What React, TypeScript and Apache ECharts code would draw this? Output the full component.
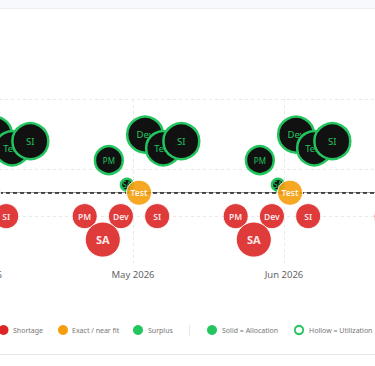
import { useEffect, useRef } from "react";
import * as echarts from "echarts";

// Month ticks on the x axis (index = tick value)
const monthLabels = ["Mar 2026", "Apr 2026", "May 2026", "Jun 2026", "Jul 2026", "Aug 2026"];
// Months that carry bubbles (tick index)
const bubbleMonths = [1, 2, 3, 4];
const roles = ["PM", "SA", "Dev", "Test", "SI"];

// Allocation gap (FTE) per month x role  (negative = shortage, 0 = fit)
const allocationGap = [
  [-1, -2, -1, 0, -1],
  [-1, -2, -1, 0, -1],
  [-1, -2, -1, 0, -1],
  [-1, -2, -1, 0, -1],
];
// Allocation magnitude per month x role
const allocationFte = [
  [1.9, 3, 1.9, 1.9, 1.9],
  [1.9, 3, 1.9, 1.9, 1.9],
  [1.9, 3, 1.9, 1.9, 1.9],
  [1.9, 3, 1.9, 1.9, 1.9],
];
// Utilization gap per month x role (positive = surplus)
const utilizationGap = [
  [1.39, 0.34, 2.48, 1.9, 2.2],
  [1.39, 0.34, 2.48, 1.9, 2.2],
  [1.39, 0.34, 2.48, 1.9, 2.2],
  [1.39, 0.34, 2.48, 1.9, 2.2],
];
const utilizationFte = [
  [2.2, 0.45, 3.1, 2.9, 3.1],
  [2.2, 0.45, 3.1, 2.9, 3.1],
  [2.2, 0.45, 3.1, 2.9, 3.1],
  [2.2, 0.45, 3.1, 2.9, 3.1],
];
// Offset of each role within its month (fraction of a month)
const allocationOffset = [-0.32, -0.2, -0.08, 0.04, 0.16];
const utilizationOffset = [-0.16, -0.04, 0.08, 0.2, 0.32];

const RED = "#dc2626";
const ORANGE = "#f59e0b";
const GREEN = "#22c55e";
const FONT = "'Noto Sans', 'Open Sans', sans-serif";

// the chart canvas is wider than the visible window and shifted left
const SHIFT = 200;
const CANVAS_W = 900;

const sizeOf = (fte: number) => 8 + 9 * fte;

export default function App() {
  const ref = useRef<HTMLDivElement>(null);

  useEffect(() => {
    if (!ref.current) return;
    const chart = echarts.init(ref.current, null, { renderer: "svg" });

    const series: any[] = [];
    let z = 10;

    // utilization (hollow style) bubbles
    const utilOrder = [0, 2, 3, 4, 1];
    utilOrder.forEach((r) => {
      series.push({
        type: "scatter",
        z: z++,
        clip: false,
        data: bubbleMonths.map((m, i) => [m + utilizationOffset[r], utilizationGap[i][r], utilizationFte[i][r]]),
        symbol: "circle",
        symbolSize: (v: number[]) => sizeOf(v[2]),
        itemStyle: { color: "#111111", borderColor: GREEN, borderWidth: 2.5, opacity: 1 },
        label: {
          show: true,
          position: "inside",
          formatter: roles[r],
          color: GREEN,
          fontFamily: FONT,
          fontSize: utilizationFte[0][r] >= 2.8 ? 9.5 : 8,
        },
        emphasis: { disabled: true },
      });
    });

    // allocation (solid) bubbles
    const allocOrder = [3, 0, 2, 4, 1];
    allocOrder.forEach((r) => {
      series.push({
        type: "scatter",
        z: z++,
        clip: false,
        data: bubbleMonths.map((m, i) => {
          const g = allocationGap[i][r];
          return {
            value: [m + allocationOffset[r], g, allocationFte[i][r]],
            itemStyle: { color: g < 0 ? RED : g === 0 ? ORANGE : GREEN },
          };
        }),
        symbol: "circle",
        symbolSize: (v: number[]) => sizeOf(v[2]),
        itemStyle: { opacity: 0.9, borderColor: "#ffffff", borderWidth: 1 },
        label: {
          show: true,
          position: "inside",
          formatter: roles[r],
          color: "#ffffff",
          fontFamily: FONT,
          fontWeight: allocationFte[0][r] >= 2.8 ? "bold" : 600,
          fontSize: allocationFte[0][r] >= 2.8 ? 11 : 8.5,
        },
        emphasis: { disabled: true },
      });
    });

    // reference lines
    series[0].markLine = {
      silent: true,
      symbol: "none",
      label: { show: false },
      animation: false,
      data: [
        { yAxis: 4, lineStyle: { color: "#e8e8e8", width: 1, type: [3, 3] } },
        { yAxis: 1, lineStyle: { color: "#e8e8e8", width: 1, type: [3, 3] } },
        { yAxis: -1, lineStyle: { color: "#e8e8e8", width: 1, type: [3, 3] } },
        { yAxis: 0, lineStyle: { color: "#222222", width: 1.5, type: [4, 3] } },
      ],
    };

    const legendY = 330;
    const legendText = (x: number, text: string) => ({
      type: "text",
      x: x + SHIFT,
      y: legendY,
      style: { text, fill: "#777777", fontSize: 7, fontFamily: FONT, verticalAlign: "middle" },
      silent: true,
    });
    const legendDot = (cx: number, fill: string) => ({
      type: "circle",
      shape: { cx: cx + SHIFT, cy: legendY, r: 5 },
      style: { fill },
      silent: true,
    });

    chart.setOption({
      animation: false,
      backgroundColor: "#ffffff",
      grid: {
        left: SHIFT - 169,
        right: CANVAS_W - (SHIFT + 586),
        top: 99,
        bottom: 103,
        containLabel: false,
        outerBoundsMode: "none",
      },
      xAxis: {
        type: "value",
        min: 0,
        max: 5,
        interval: 1,
        axisLine: { show: true, lineStyle: { color: "#999999", width: 1 } },
        axisTick: { show: true, length: 5, lineStyle: { color: "#999999" } },
        axisLabel: {
          formatter: (v: number) => monthLabels[v] ?? "",
          color: "#666666",
          fontSize: 9.5,
          fontFamily: FONT,
          margin: 6,
        },
        splitLine: { show: true, lineStyle: { color: "#e8e8e8", type: [3, 3] } },
      },
      yAxis: { type: "value", min: -3, max: 4, show: false },
      series,
      graphic: [
        { type: "rect", shape: { x: 0, y: 0, width: CANVAS_W, height: 8 }, style: { fill: "#f8f9fc" }, silent: true },
        { type: "line", shape: { x1: 0, y1: 8.5, x2: CANVAS_W, y2: 8.5 }, style: { stroke: "#eceef3", lineWidth: 1 }, silent: true },
        { type: "line", shape: { x1: 0, y1: 354.5, x2: CANVAS_W, y2: 354.5 }, style: { stroke: "#e6e7ee", lineWidth: 1 }, silent: true },
        legendDot(3.5, RED),
        legendText(13, "Shortage"),
        legendDot(63, ORANGE),
        legendText(72, "Exact / near fit"),
        legendDot(138, GREEN),
        legendText(148, "Surplus"),
        { type: "line", shape: { x1: 189.5 + SHIFT, y1: 325, x2: 189.5 + SHIFT, y2: 336 }, style: { stroke: "#e5e7eb", lineWidth: 1 }, silent: true },
        legendDot(212, GREEN),
        legendText(222, "Solid = Allocation"),
        { type: "circle", shape: { cx: 299 + SHIFT, cy: legendY, r: 4.2 }, style: { fill: "#ffffff", stroke: GREEN, lineWidth: 1.8 }, silent: true },
        legendText(309, "Hollow = Utilization"),
      ],
    });

    return () => chart.dispose();
  }, []);

  return (
    <div style={{ position: "fixed", left: 0, top: 0, width: 375, height: 366, overflow: "hidden", background: "#ffffff" }}>
      <div
        ref={ref}
        style={{ position: "absolute", left: -SHIFT, top: 0, width: CANVAS_W, height: 366 }}
      />
    </div>
  );
}
